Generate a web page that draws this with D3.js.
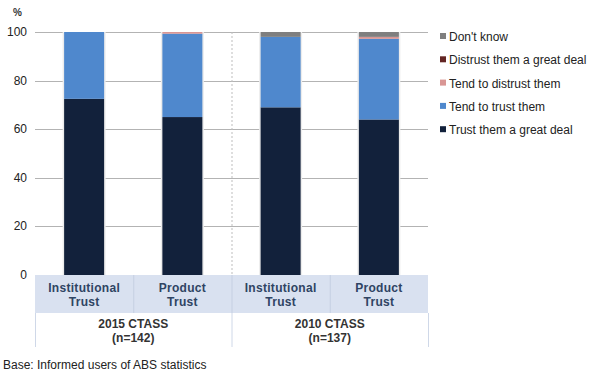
<!DOCTYPE html>
<html>
<head>
<meta charset="utf-8">
<script src="https://cdn.jsdelivr.net/npm/d3@7"></script>
<style>
  body { margin: 0; background: #fff; }
  text { font-family: "Liberation Sans", Arial, sans-serif; }
</style>
</head>
<body>
<div id="chart"></div>
<script>
// data
const groups = ["2015 CTASS", "2010 CTASS"];
const groupN = ["(n=142)", "(n=137)"];
const bars = ["Institutional Trust 2015", "Product Trust 2015", "Institutional Trust 2010", "Product Trust 2010"];
const barLabels = [["Institutional", "Trust"], ["Product", "Trust"], ["Institutional", "Trust"], ["Product", "Trust"]];
const seriesNames = ["Trust them a great deal", "Tend to trust them", "Tend to distrust them", "Distrust them a great deal", "Don't know"];
const seriesColors = ["#12213b", "#4f88cd", "#d99694", "#632523", "#7f7f7f"];
const trustGreat = [72.5, 65.0, 69.0, 64.0];
const tendTrust = [27.5, 34.3, 29.0, 33.2];
const tendDistrust = [0, 0.7, 0, 0.8];
const distrustGreat = [0, 0, 0, 0];
const dontKnow = [0, 0, 2.0, 2.0];
const yTicks = [0, 20, 40, 60, 80, 100];

const width = 592, height = 377;
const margin = { left: 35, top: 32 };
const plotW = 393, plotH = 243;

const svg = d3.select("#chart")
  .append("svg")
  .attr("width", width)
  .attr("height", height);

const rows = bars.map((b, i) => ({
  bar: b,
  [seriesNames[0]]: trustGreat[i],
  [seriesNames[1]]: tendTrust[i],
  [seriesNames[2]]: tendDistrust[i],
  [seriesNames[3]]: distrustGreat[i],
  [seriesNames[4]]: dontKnow[i]
}));
const stacked = d3.stack().keys(seriesNames)(rows);

const x = d3.scaleBand()
  .domain(bars)
  .range([margin.left, margin.left + plotW])
  .paddingInner(0)
  .paddingOuter(0);
const barW = 40;

const y = d3.scaleLinear()
  .domain([0, 100])
  .range([margin.top + plotH, margin.top]);

const color = d3.scaleOrdinal().domain(seriesNames).range(seriesColors);

// gridlines
svg.append("g")
  .attr("transform", `translate(${margin.left},0)`)
  .call(d3.axisLeft(y).tickValues(yTicks).tickSize(-plotW).tickFormat(""))
  .call(g => g.select(".domain").remove())
  .call(g => g.selectAll("line").attr("stroke", "#b3b3b3").attr("shape-rendering", "crispEdges"));

// y tick labels
svg.append("g")
  .selectAll("text")
  .data(yTicks)
  .join("text")
  .attr("x", 27)
  .attr("y", d => y(d) + 4)
  .attr("text-anchor", "end")
  .attr("font-size", 12)
  .attr("fill", "#222")
  .text(d => d);

svg.append("text")
  .attr("x", 13)
  .attr("y", 16)
  .attr("font-size", 10)
  .attr("font-weight", "bold")
  .attr("fill", "#333")
  .text("%");

// dotted divider between groups
svg.append("line")
  .attr("x1", x(bars[2]) + 0.5)
  .attr("x2", x(bars[2]) + 0.5)
  .attr("y1", y(100))
  .attr("y2", y(0))
  .attr("stroke", "#bdbdbd")
  .attr("stroke-dasharray", "2,2");

// bar shadow
svg.append("g")
  .selectAll("rect")
  .data(bars)
  .join("rect")
  .attr("x", d => x(d) + (x.bandwidth() - barW) / 2 - 1.5)
  .attr("y", y(100))
  .attr("width", barW + 3)
  .attr("height", y(0) - y(100))
  .attr("fill", "#ececec");

// stacked bars
svg.append("g")
  .selectAll("g")
  .data(stacked)
  .join("g")
  .attr("fill", d => color(d.key))
  .selectAll("rect")
  .data(d => d)
  .join("rect")
  .attr("x", d => x(d.data.bar) + (x.bandwidth() - barW) / 2)
  .attr("y", d => y(d[1]))
  .attr("width", barW)
  .attr("height", d => y(d[0]) - y(d[1]));

// category table
const row1Top = y(0), row1H = 38, row2H = 34;
const table = svg.append("g");
table.append("rect")
  .attr("x", margin.left)
  .attr("y", row1Top)
  .attr("width", plotW)
  .attr("height", row1H)
  .attr("fill", "#d9e1f0");

table.selectAll(".sep")
  .data(bars.slice(1))
  .join("line")
  .attr("x1", d => x(d) + 0.5)
  .attr("x2", d => x(d) + 0.5)
  .attr("y1", row1Top)
  .attr("y2", row1Top + row1H)
  .attr("stroke", "#c5cfe2");

const gsep = [margin.left, x(bars[2]), margin.left + plotW];
table.selectAll(".gsep")
  .data(gsep)
  .join("line")
  .attr("x1", d => d + 0.5)
  .attr("x2", d => d + 0.5)
  .attr("y1", row1Top + row1H)
  .attr("y2", row1Top + row1H + row2H)
  .attr("stroke", "#cfd8e8");

table.selectAll(".cat")
  .data(bars)
  .join("text")
  .attr("text-anchor", "middle")
  .attr("font-size", 12)
  .attr("font-weight", "bold")
  .attr("fill", "#2f4463")
  .attr("letter-spacing", "0.3")
  .each(function(d, i) {
    const t = d3.select(this);
    barLabels[i].forEach((s, j) => {
      t.append("tspan")
        .attr("x", x(d) + x.bandwidth() / 2)
        .attr("y", row1Top + 17 + j * 14)
        .text(s);
    });
  });

table.selectAll(".grp")
  .data(groups)
  .join("text")
  .attr("text-anchor", "middle")
  .attr("font-size", 12)
  .attr("font-weight", "bold")
  .attr("fill", "#333")
  .each(function(d, i) {
    const cx = (gsep[i] + gsep[i + 1]) / 2;
    const t = d3.select(this);
    t.append("tspan").attr("x", cx).attr("y", row1Top + row1H + 15).text(d);
    t.append("tspan").attr("x", cx).attr("y", row1Top + row1H + 29).text(groupN[i]);
  });

// legend (reverse order, top = Don't know)
const legend = svg.append("g")
  .selectAll("g")
  .data(seriesNames.slice().reverse())
  .join("g")
  .attr("transform", (d, i) => `translate(440, ${37 + i * 23.3})`);
legend.append("rect")
  .attr("x", 0)
  .attr("y", -4)
  .attr("width", 6)
  .attr("height", 6)
  .attr("fill", d => color(d));
legend.append("text")
  .attr("x", 9)
  .attr("y", 4)
  .attr("font-size", 12)
  .attr("fill", "#222")
  .text(d => d);

svg.append("text")
  .attr("x", 3)
  .attr("y", 369)
  .attr("font-size", 12)
  .attr("fill", "#222")
  .text("Base: Informed users of ABS statistics");
</script>
</body>
</html>
